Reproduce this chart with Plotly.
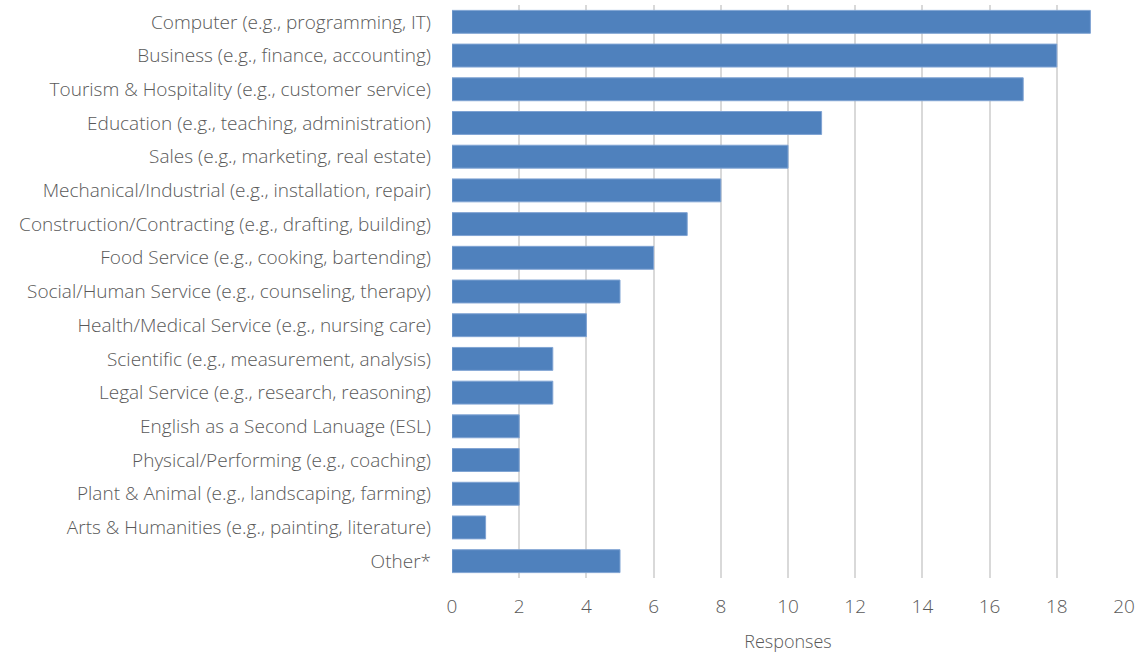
import plotly.graph_objects as go

categories = [
    "Computer (e.g., programming, IT)",
    "Business (e.g., finance, accounting)",
    "Tourism & Hospitality (e.g., customer service)",
    "Education (e.g., teaching, administration)",
    "Sales (e.g., marketing, real estate)",
    "Mechanical/Industrial (e.g., installation, repair)",
    "Construction/Contracting (e.g., drafting, building)",
    "Food Service (e.g., cooking, bartending)",
    "Social/Human Service (e.g., counseling, therapy)",
    "Health/Medical Service (e.g., nursing care)",
    "Scientific (e.g., measurement, analysis)",
    "Legal Service (e.g., research, reasoning)",
    "English as a Second Lanuage (ESL)",
    "Physical/Performing (e.g., coaching)",
    "Plant & Animal (e.g., landscaping, farming)",
    "Arts & Humanities (e.g., painting, literature)",
    "Other*",
]
responses = [19, 18, 17, 11, 10, 8, 7, 6, 5, 4, 3, 3, 2, 2, 2, 1, 5]
x_ticks = [0, 2, 4, 6, 8, 10, 12, 14, 16, 18, 20]

FONT = "Segoe UI Light, Open Sans, Lato, sans-serif"
TXT = "#595959"

fig = go.Figure(go.Bar(
    x=responses,
    y=categories,
    orientation="h",
    marker=dict(color="#4F81BD", line=dict(color="#7FA3D3", width=1)),
    width=0.68,
))

fig.update_layout(
    width=1141, height=653,
    margin=dict(l=452, r=17, t=5, b=75),
    paper_bgcolor="white", plot_bgcolor="white",
    font=dict(family=FONT, size=19, color=TXT, weight=300),
    showlegend=False,
    bargap=0.32,
)
fig.update_xaxes(
    range=[0, 20], tickvals=x_ticks, showgrid=True, gridcolor="#D9D9D9", gridwidth=2,
    zeroline=False, showline=False, ticks="", ticklabelstandoff=15,
    title=dict(text="Responses", standoff=18, font=dict(size=18, color=TXT)),
    automargin=False,
)
fig.update_yaxes(
    autorange="reversed", showgrid=False, showline=False, zeroline=False, ticks="",
    ticklabelstandoff=20, automargin=False,
)

fig.write_html(
    "out.html",
    config={"displayModeBar": False},
    post_script="document.body.style.margin='0';document.body.style.overflow='hidden';",
)
